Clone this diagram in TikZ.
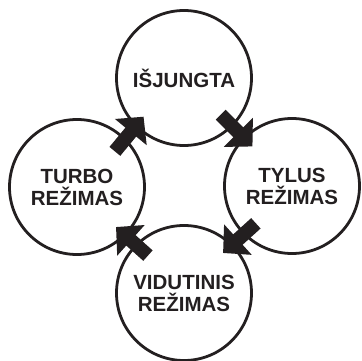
\documentclass[tikz,border=0pt]{standalone}
\usepackage{fontspec}
\setmainfont{Liberation Sans}
\usetikzlibrary{arrows.meta}
\definecolor{ink}{HTML}{231F20}

\begin{document}
\begin{tikzpicture}[x=1pt, y=1pt,
    every node/.style={font=\fontsize{20.5}{22}\selectfont\bfseries, text=ink},
    regime/.style={circle, draw=ink, line width=2.8pt, minimum size=135pt, inner sep=0pt, align=center},
    jump/.style={ink, line width=14pt, -{Triangle[length=20pt, width=40pt]}, shorten <=-17pt, shorten >=-13pt}]
    \useasboundingbox (0,0) rectangle (362,361);

    % Modes
    \node[regime] (off)    at (184,283) {IŠJUNGTA};
    \node[regime] (quiet)  at (292,175) {TYLUS\\REŽIMAS};
    \node[regime] (medium) at (184,68)  {VIDUTINIS\\REŽIMAS};
    \node[regime] (turbo)  at (77,174)  {TURBO\\REŽIMAS};

    % Transitions
    \draw[jump] (off.-45)     -- (quiet.135);
    \draw[jump] (quiet.-135)  -- (medium.45);
    \draw[jump] (medium.135)  -- (turbo.-45);
    \draw[jump] (turbo.45)    -- (off.-135);
\end{tikzpicture}
\end{document}
